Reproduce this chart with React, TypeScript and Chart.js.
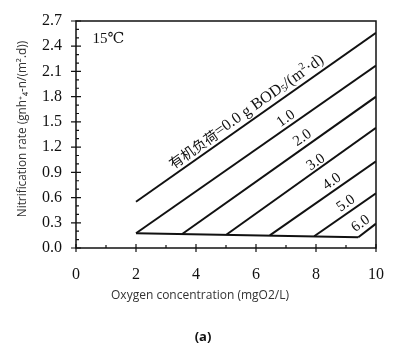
import React, { useEffect, useRef } from 'react';
import Chart from 'chart.js/auto';

// ---- data ----
const LOAD_LABELS = ['0.0', '1.0', '2.0', '3.0', '4.0', '5.0', '6.0'];
const LINE_START_X = [2.0, 2.0, 3.54, 5.02, 6.46, 7.94, 9.41];
const LINE_START_Y = [0.55, 0.175, 0.167, 0.16, 0.15, 0.14, 0.127];
const LINE_END_X = [10, 10, 10, 10, 10, 10, 10];
const LINE_END_Y = [2.56, 2.17, 1.8, 1.43, 1.03, 0.65, 0.29];
const BASE_X = [2.0, 9.41];
const BASE_Y = [0.175, 0.127];
const LABEL_X = [5.68, 7.0, 7.55, 8.0, 8.53, 9.0, 9.49];
const LABEL_Y = [1.62, 1.54, 1.31, 1.02, 0.79, 0.53, 0.29];
const X_TICKS = [0, 2, 4, 6, 8, 10];
const X_MINOR = [1, 3, 5, 7, 9];
const Y_TICKS = [0, 0.3, 0.6, 0.9, 1.2, 1.5, 1.8, 2.1, 2.4, 2.7];
const Y_MINOR = [0.1, 0.2, 0.4, 0.5, 0.7, 0.8, 1.0, 1.1, 1.3, 1.4, 1.6, 1.7, 1.9, 2.0, 2.2, 2.3, 2.5, 2.6];
const TEMP_LABEL = '15℃';
const TEMP_X = 0.55;
const TEMP_Y = 2.48;
const X_TITLE = 'Oxygen concentration (mgO2/L)';
const Y_TITLE = 'Nitrification rate (gnh⁺₄-n/(m².d))';
const PANEL = '(a)';

const INK = '#111';
const SERIF = '"Liberation Serif", "DejaVu Serif", serif';
const SANS = '"Open Sans", "Noto Sans", sans-serif';
const CJK = '"Noto Sans CJK SC", sans-serif';

const decorPlugin = {
  id: 'decor',
  afterDatasetsDraw(chart: any) {
    const { ctx, chartArea: a, scales } = chart;
    const xs = scales.x;
    const ys = scales.y;
    ctx.save();
    // frame
    ctx.strokeStyle = INK;
    ctx.lineWidth = 1.5;
    ctx.strokeRect(a.left, a.top, a.right - a.left, a.bottom - a.top);
    // ticks
    ctx.lineWidth = 1.2;
    ctx.beginPath();
    X_TICKS.forEach((v) => {
      const px = xs.getPixelForValue(v);
      ctx.moveTo(px, a.bottom + 4);
      ctx.lineTo(px, a.bottom - 4);
    });
    X_MINOR.forEach((v) => {
      const px = xs.getPixelForValue(v);
      ctx.moveTo(px, a.bottom);
      ctx.lineTo(px, a.bottom - 3);
    });
    Y_TICKS.forEach((v) => {
      const py = ys.getPixelForValue(v);
      ctx.moveTo(a.left - 5, py);
      ctx.lineTo(a.left + 5, py);
    });
    Y_MINOR.forEach((v) => {
      const py = ys.getPixelForValue(v);
      ctx.moveTo(a.left, py);
      ctx.lineTo(a.left + 3, py);
    });
    ctx.stroke();

    // temperature label
    ctx.fillStyle = INK;
    ctx.font = `15px ${SERIF}`;
    ctx.textAlign = 'left';
    ctx.textBaseline = 'middle';
    ctx.fillText(TEMP_LABEL, xs.getPixelForValue(TEMP_X), ys.getPixelForValue(TEMP_Y));

    // rotated line labels
    const ang = Math.atan2(
      ys.getPixelForValue(LINE_END_Y[0]) - ys.getPixelForValue(LINE_START_Y[0]),
      xs.getPixelForValue(LINE_END_X[0]) - xs.getPixelForValue(LINE_START_X[0])
    );
    LOAD_LABELS.forEach((lab, i) => {
      const px = xs.getPixelForValue(LABEL_X[i]);
      const py = ys.getPixelForValue(LABEL_Y[i]);
      ctx.save();
      ctx.translate(px, py);
      ctx.rotate(ang);
      ctx.textBaseline = 'middle';
      ctx.textAlign = 'left';
      if (i === 0) {
        const pieces = [
          { t: '有机负荷', f: `14px ${CJK}`, dy: 0 },
          { t: '=' + lab + ' g BOD', f: `16px ${SERIF}`, dy: 0 },
          { t: '5', f: `10px ${SERIF}`, dy: 3 },
          { t: '/(m', f: `16px ${SERIF}`, dy: 0 },
          { t: '2', f: `10px ${SERIF}`, dy: -5 },
          { t: '·d)', f: `16px ${SERIF}`, dy: 0 },
        ];
        let total = 0;
        pieces.forEach((p) => {
          ctx.font = p.f;
          total += ctx.measureText(p.t).width;
        });
        let cx = -total / 2;
        pieces.forEach((p) => {
          ctx.font = p.f;
          ctx.fillText(p.t, cx, p.dy);
          cx += ctx.measureText(p.t).width;
        });
      } else {
        ctx.font = `15px ${SERIF}`;
        ctx.textAlign = 'center';
        ctx.fillText(lab, 0, 0);
      }
      ctx.restore();
    });

    // axis titles and panel label
    ctx.fillStyle = '#333';
    ctx.textAlign = 'center';
    ctx.textBaseline = 'middle';
    ctx.font = `12px ${SANS}`;
    ctx.fillText(X_TITLE, 200, 296);
    ctx.save();
    ctx.translate(23, 129);
    ctx.rotate(-Math.PI / 2);
    ctx.font = `11.8px ${SANS}`;
    ctx.fillText(Y_TITLE, 0, 0);
    ctx.restore();
    ctx.fillStyle = '#111';
    ctx.font = `bold 13px ${SANS}`;
    ctx.fillText(PANEL, 203, 337);
    ctx.restore();
  },
};

export default function App() {
  const ref = useRef<HTMLCanvasElement>(null);
  useEffect(() => {
    const canvas = ref.current!;
    const lineSets = LOAD_LABELS.map((lab, i) => ({
      label: lab,
      data: [
        { x: LINE_START_X[i], y: LINE_START_Y[i] },
        { x: LINE_END_X[i], y: LINE_END_Y[i] },
      ],
      showLine: true,
      borderColor: INK,
      backgroundColor: INK,
      borderWidth: 2,
      pointRadius: 0,
      fill: false,
    }));
    const base = {
      label: 'base',
      data: BASE_X.map((x, i) => ({ x, y: BASE_Y[i] })),
      showLine: true,
      borderColor: INK,
      backgroundColor: INK,
      borderWidth: 2,
      pointRadius: 0,
      fill: false,
    };
    const chart = new Chart(canvas, {
      type: 'scatter',
      data: { datasets: [...lineSets, base] as any },
      options: {
        responsive: false,
        animation: false,
        layout: { padding: { left: 0, right: 33, top: 21, bottom: 0 } },
        plugins: { legend: { display: false }, tooltip: { enabled: false } },
        scales: {
          x: {
            type: 'linear',
            min: 0,
            max: 10,
            afterBuildTicks: (s: any) => {
              s.ticks = X_TICKS.map((v) => ({ value: v }));
            },
            afterFit: (s: any) => {
              s.height = 105;
            },
            grid: { display: false },
            border: { display: false },
            ticks: { color: INK, font: { family: SERIF, size: 16 }, padding: 9, maxRotation: 0, callback: (v: any) => String(v) },
          },
          y: {
            type: 'linear',
            min: 0,
            max: 2.7,
            afterBuildTicks: (s: any) => {
              s.ticks = Y_TICKS.map((v) => ({ value: v }));
            },
            afterFit: (s: any) => {
              s.width = 76;
            },
            grid: { display: false },
            border: { display: false },
            ticks: { color: INK, font: { family: SERIF, size: 16 }, padding: 6, callback: (v: any) => Number(v).toFixed(1) },
          },
        },
      } as any,
      plugins: [decorPlugin],
    });
    return () => chart.destroy();
  }, []);
  return (
    <canvas
      ref={ref}
      width={409}
      height={353}
      style={{ position: 'fixed', left: 0, top: 0, display: 'block', background: '#fff' }}
    />
  );
}
